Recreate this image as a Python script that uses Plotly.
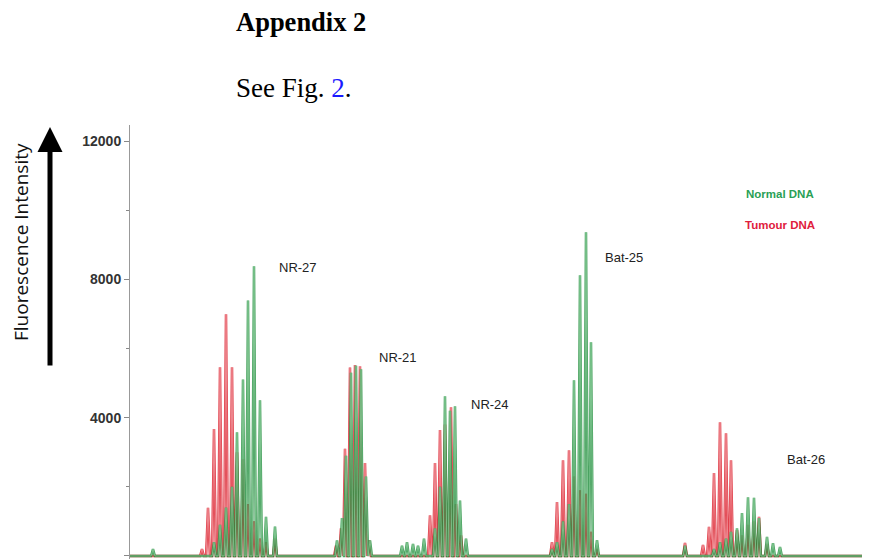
import plotly.graph_objects as go

# ---- data (peak position in scan units, peak height in RFU) ----
normal_pos = [153, 214, 220, 226, 232, 237, 243, 248, 254, 260, 266, 275,
              337, 342, 346, 351, 356, 361, 366, 370,
              402, 407, 413, 418, 424,
              435, 440, 445, 450, 455, 460, 466,
              552, 557, 563, 569, 574, 580, 586, 591, 597,
              685, 714, 720, 726, 731, 737, 742, 748, 754, 759, 767, 773, 780]
normal_h = [200, 400, 900, 1400, 2000, 3580, 5100, 7390, 8380, 4500, 1130, 850,
            450, 1100, 2900, 5300, 5500, 5400, 2300, 450,
            300, 400, 350, 300, 500,
            800, 2000, 4620, 4200, 4330, 1600, 500,
            200, 400, 1000, 1500, 5080, 8120, 9360, 6180, 460,
            300, 200, 400, 500, 700, 800, 1240, 1700, 1680, 1100, 550, 370, 260]

tumour_pos = [202, 208, 214, 220, 226, 232, 237, 243, 248, 254, 260, 266, 275,
              336, 341, 345, 350, 355, 360, 365, 369,
              430, 435, 440, 445, 451, 456, 461,
              552, 557, 563, 569, 574, 580, 586, 591, 597,
              685, 703, 709, 714, 720, 726, 731, 737, 742, 748, 754, 759, 767]
tumour_h = [200, 1390, 3670, 5460, 6990, 5460, 3000, 2800, 1500, 1000, 500, 400, 500,
            300, 800, 3100, 5450, 5520, 5490, 2690, 460,
            1180, 2690, 3640, 3800, 4300, 1500, 600,
            400, 1560, 2770, 3060, 2300, 1900, 1800, 700, 200,
            380, 320, 840, 2400, 3870, 3550, 2770, 750, 600, 900, 1000, 1130, 350]

y_tickvals = [0, 4000, 8000, 12000]
y_ticktext = ["0", "4000", "8000", "12000"]
markers = [("NR-27", 298, 8330), ("NR-21", 398, 5730), ("NR-24", 490, 4370),
           ("Bat-25", 624, 8620), ("Bat-26", 806, 2800)]

X0, X1 = 130, 870
HALF = 1.9


def trace_xy(pos, h):
    xs, ys = [X0], [0]
    for p, v in sorted(zip(pos, h)):
        xs += [p - HALF, p, p + HALF]
        ys += [0, v, 0]
    xs.append(X1)
    ys.append(0)
    return xs, ys


fig = go.Figure()
nx, ny = trace_xy(normal_pos, normal_h)
tx, ty = trace_xy(tumour_pos, tumour_h)
fig.add_trace(go.Scatter(x=tx, y=ty, mode="lines", line=dict(color="#dc1f2c", width=2.5), opacity=0.85, hoverinfo="skip"))
fig.add_trace(go.Scatter(x=tx, y=ty, mode="lines", line=dict(color="#f5a8ae", width=0.8), opacity=0.85, hoverinfo="skip"))
fig.add_trace(go.Scatter(x=nx, y=ny, mode="lines", line=dict(color="#1e8c3a", width=2.5), opacity=0.8, hoverinfo="skip"))
fig.add_trace(go.Scatter(x=nx, y=ny, mode="lines", line=dict(color="#9ad8a8", width=0.8), opacity=0.8, hoverinfo="skip"))

OFF = 8  # page body margin
W, H = 870 - OFF, 559 - OFF
ML, MT = 130 - OFF, 125 - OFF
PW, PH = W - ML, H - MT


def px(xp):
    return (xp - OFF - ML) / PW


def py(yp):
    return (H - (yp - OFF)) / PH


ann = []
for name, xv, yv in markers:
    ann.append(dict(x=xv, y=yv, xref="x", yref="y", text=name, showarrow=False,
                    xanchor="center", yanchor="middle",
                    font=dict(family="Liberation Sans", size=13, color="#222")))
ann.append(dict(x=px(780), y=py(194), xref="paper", yref="paper", text="<b>Normal DNA</b>", showarrow=False,
                xanchor="center", yanchor="middle",
                font=dict(family="Liberation Sans", size=11.5, color="#2aa055")))
ann.append(dict(x=px(780), y=py(225), xref="paper", yref="paper", text="<b>Tumour DNA</b>", showarrow=False,
                xanchor="center", yanchor="middle",
                font=dict(family="Liberation Sans", size=11.5, color="#e0203c")))
ann.append(dict(x=px(234), y=py(22), xref="paper", yref="paper", text="<b>Appendix 2</b>", showarrow=False,
                xanchor="left", yanchor="middle", font=dict(family="Liberation Serif", size=26.5, color="black")))
ann.append(dict(x=px(234), y=py(88), xref="paper", yref="paper",
                text="See Fig. <span style='color:#1a1aff'>2</span>.", showarrow=False,
                xanchor="left", yanchor="middle", font=dict(family="Liberation Serif", size=27, color="black")))
ann.append(dict(x=px(21), y=py(242), xref="paper", yref="paper", text="Fluorescence Intensity", showarrow=False,
                textangle=-90, xanchor="center", yanchor="middle",
                font=dict(family="Open Sans", size=19, color="#111")))
ann.append(dict(x=px(50), y=py(127), xref="paper", yref="paper", text="", showarrow=True,
                ax=0, ay=240, arrowhead=2, arrowsize=1.0, arrowwidth=5, arrowcolor="black"))

fig.update_layout(
    width=W, height=H,
    margin=dict(l=ML, r=0, t=MT, b=0),
    paper_bgcolor="white", plot_bgcolor="white",
    showlegend=False,
    annotations=ann,
    xaxis=dict(range=[X0, X1], visible=False),
    yaxis=dict(range=[-87, 12463], tickvals=y_tickvals, ticktext=y_ticktext,
               showgrid=False, zeroline=False, showline=True, linecolor="#999", linewidth=1,
               ticks="outside", ticklen=5, tickcolor="#888",
               minor=dict(dtick=2000, ticks="outside", ticklen=3, tickcolor="#888"),
               tickfont=dict(family="Liberation Sans", size=14, color="#333", weight="bold")),
)
fig.write_html("out.html")
